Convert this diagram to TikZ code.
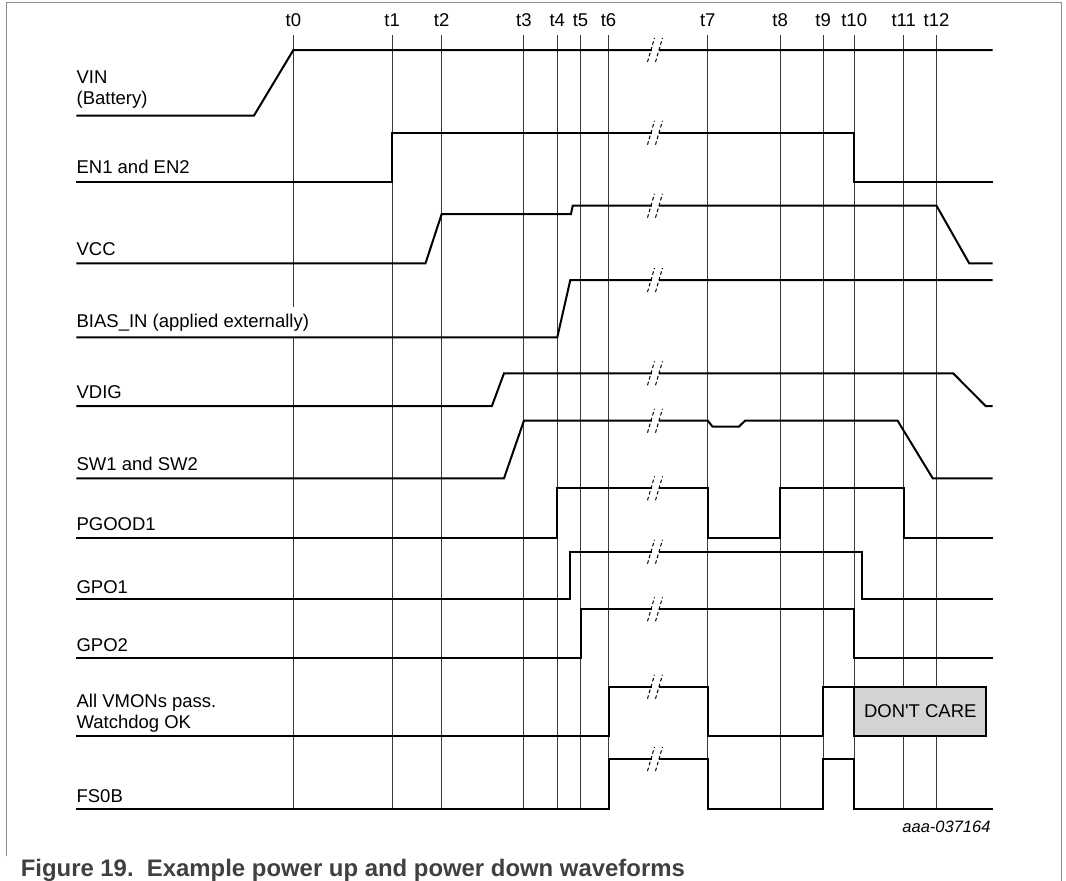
\documentclass[tikz,border=0pt]{standalone}
\usepackage{fontspec}
\setmainfont{Liberation Sans}[Ligatures=TeXOff]
\usetikzlibrary{positioning}
\definecolor{framegray}{HTML}{8C8C8C}
\definecolor{tickgray}{HTML}{3A3A3A}
\definecolor{carefill}{HTML}{D3D3D3}
\definecolor{captext}{HTML}{404040}

\begin{document}
\begin{tikzpicture}[x=1pt,y=-1pt,font=\fontsize{18.5}{21}\selectfont,
  sig/.style={line width=2pt},
  tline/.style={tickgray,line width=0.9pt},
  brk/.style={line width=1pt,dash pattern=on 3.5pt off 2.5pt},
  lab/.style={anchor=base west,inner sep=0pt},
  tlab/.style={anchor=base,inner sep=0pt},
  dcbox/.style={draw,line width=2pt,fill=carefill,minimum width=132pt,minimum height=49pt,inner sep=0pt}]
\useasboundingbox (0,0) rectangle (1066,881);
\draw[framegray,line width=1pt] (6.9,856) -- (6.9,2.7) -- (1061.7,2.7) -- (1061.7,881);
\foreach \n/\x in {0/293.4,1/392.2,2/441.7,3/523.9,4/557.3,5/580.5,6/608.5,7/707.8,8/780.2,9/823.2,10/854.2,11/903.7,12/936.5}{
  \node[tlab] (t\n) at (\x,26.7) {t\n};
  \draw[tline] (\x,35) -- (\x,808.7);
}
\foreach \n/\y/\lab in {vin/83.3/VIN,bat/104/(Battery),en/173.3/EN1 and EN2,vcc/255/VCC,
  vdig/398.3/VDIG,sw/470/SW1 and SW2,pg/530/PGOOD1,gpoa/593.3/GPO1,gpob/651.7/GPO2,
  vmon/707.7/All VMONs pass.,wdog/728.3/Watchdog OK,fs/802.3/FS0B}
  \node[lab] (\n) at (76.4,\y) {\lab};
\node[lab,inner ysep=7pt,fill=white] (bias) at (76.4,327.3) {BIAS\_IN (applied externally)};
\draw[sig] (76.4,115.7) -- (253.9,115.7) -- (293.4,50) -- (992.5,50);
\draw[sig] (76.4,181.7) -- (392.2,181.7) -- (392.2,132.7) -- (854.2,132.7) -- (854.2,181.7) -- (992.5,181.7);
\draw[sig] (76.4,263.3) -- (425.5,263.3) -- (441.7,214) -- (571,214) -- (572.7,205.7) -- (936.5,205.7) -- (969.2,263.3) -- (992.5,263.3);
\draw[sig] (76.4,337.3) -- (557.3,337.3) -- (570.3,280) -- (992.5,280);
\draw[sig] (76.4,406) -- (491.9,406) -- (504,373.3) -- (953.2,373.3) -- (985.6,406) -- (992.5,406);
\draw[sig] (76.4,478.3) -- (504,478.3) -- (523.9,420.7) -- (707.8,420.7) -- (712.6,426.7) -- (738.9,426.7) -- (745,420.7) -- (897.6,420.7) -- (932.7,478.3) -- (992.5,478.3);
\draw[sig] (76.4,537.7) -- (557.3,537.7) -- (557.3,488.3) -- (707.8,488.3) -- (707.8,537.7) -- (780.2,537.7) -- (780.2,488.3) -- (903.7,488.3) -- (903.7,537.7) -- (992.5,537.7);
\draw[sig] (76.4,599) -- (570.3,599) -- (570.3,551.7) -- (861.7,551.7) -- (861.7,599) -- (992.5,599);
\draw[sig] (76.4,658) -- (580.5,658) -- (580.5,609.3) -- (854.2,609.3) -- (854.2,658) -- (992.5,658);
\draw[sig] (76.4,735.7) -- (608.5,735.7) -- (608.5,686.7) -- (707.8,686.7) -- (707.8,735.7) -- (823.2,735.7) -- (823.2,686.7) -- (854.2,686.7);
\draw[sig] (76.4,808.7) -- (608.5,808.7) -- (608.5,759) -- (707.8,759) -- (707.8,808.7) -- (823.2,808.7) -- (823.2,759) -- (854.2,759) -- (854.2,808.7) -- (992.5,808.7);
\foreach \y in {50,132.7,205.7,280,373.3,420.7,488.3,551.7,609.3,686.7,759}{
  \fill[white] (651.5,\y-3) rectangle (658.5,\y+3);
  \draw[brk] (647.5,\y+12) -- (654.5,\y-12) (655.5,\y+12) -- (662.5,\y-12);
}
\node[dcbox] (care) at (920.25,711.2) {DON'T CARE};
\node[anchor=base east,inner sep=0pt,font=\itshape\fontsize{16.5}{19}\selectfont] (fig id) at (990.7,832.5) {aaa-037164};
\node[anchor=base west,inner sep=0pt,text=captext,font=\bfseries\fontsize{23.9}{26}\selectfont] (caption) at (20.6,876) {Figure 19.\ \ Example power up and power down waveforms};
\end{tikzpicture}
\end{document}
